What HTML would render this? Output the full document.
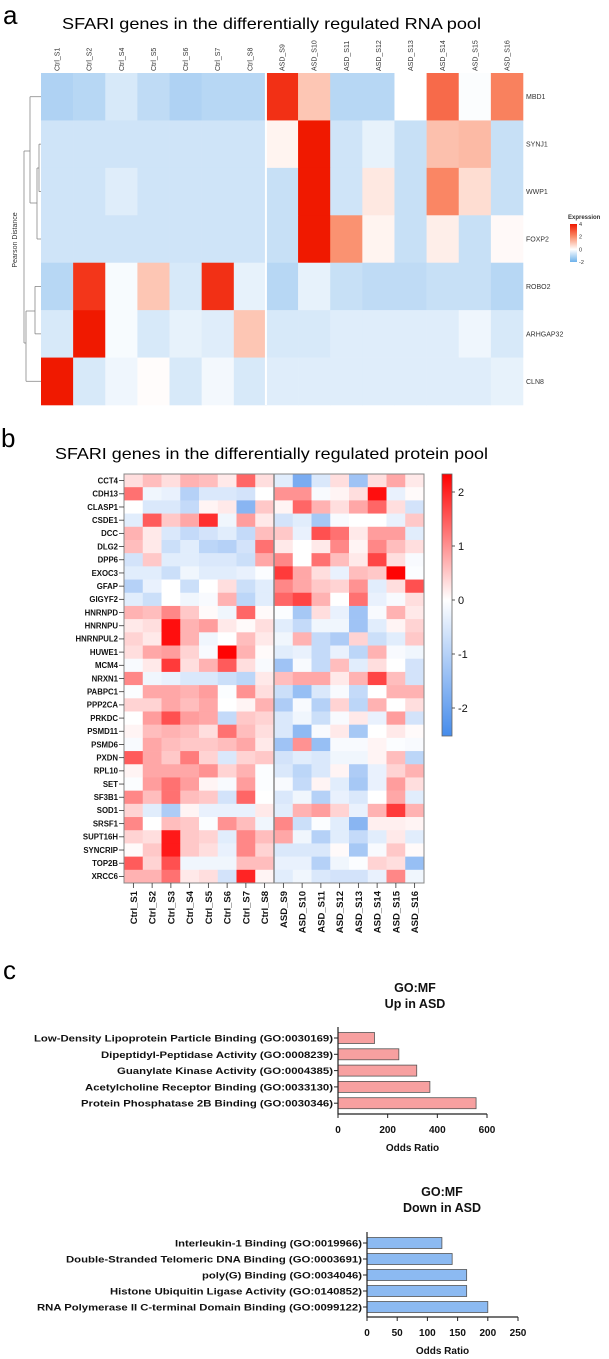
<!DOCTYPE html>
<html><head><meta charset="utf-8">
<style>
html,body{margin:0;padding:0;background:#fff;}
svg{display:block;font-family:"Liberation Sans",Arial,sans-serif;}
</style></head>
<body>
<svg id="fig" width="609" height="1359" viewBox="0 0 609 1359" xmlns="http://www.w3.org/2000/svg">
<defs>
<linearGradient id="gA" x1="0" y1="0" x2="0" y2="1">
<stop offset="0" stop-color="#f01800"/><stop offset="0.33" stop-color="#fa8c69"/><stop offset="0.67" stop-color="#ffffff"/><stop offset="1" stop-color="#6eb2eb"/>
</linearGradient>
<linearGradient id="gB" x1="0" y1="0" x2="0" y2="1">
<stop offset="0" stop-color="#ff0000"/><stop offset="0.481" stop-color="#ffffff"/><stop offset="1" stop-color="#468ceb"/>
</linearGradient>
</defs>
<text x="3" y="24" font-size="26">a</text>
<text x="62" y="29" font-size="16" textLength="419" lengthAdjust="spacingAndGlyphs">SFARI genes in the differentially regulated RNA pool</text>
<text x="1" y="447" font-size="26">b</text>
<text x="55" y="459" font-size="16" textLength="433" lengthAdjust="spacingAndGlyphs">SFARI genes in the differentially regulated protein pool</text>
<text x="3" y="979" font-size="26">c</text>
<g id="pa"></g><g id="pb"></g><g id="pc"></g>
</svg>
<script>
// ---------- Panel a data ----------
const aCols = ["Ctrl_S1","Ctrl_S2","Ctrl_S4","Ctrl_S5","Ctrl_S6","Ctrl_S7","Ctrl_S8","ASD_S9","ASD_S10","ASD_S11","ASD_S12","ASD_S13","ASD_S14","ASD_S15","ASD_S16"];
const aRows = ["MBD1","SYNJ1","WWP1","FOXP2","ROBO2","ARHGAP32","CLN8"];
const aMBD1 = [-1.0,-0.9,-0.5,-0.8,-1.0,-0.9,-0.9,3.6,1.0,-0.9,-0.9,0,2.6,-0.05,2.2];
const aSYNJ1 = [-0.6,-0.6,-0.6,-0.6,-0.6,-0.6,-0.6,0.2,4,-0.6,-0.3,-0.7,1.1,1.2,-0.7];
const aWWP1 = [-0.6,-0.6,-0.4,-0.6,-0.6,-0.6,-0.6,-0.7,4,-0.6,0.4,-0.7,2.1,0.6,-0.7];
const aFOXP2 = [-0.6,-0.6,-0.6,-0.6,-0.6,-0.6,-0.6,-0.7,4,1.9,0.2,-0.7,0.3,-0.7,0.1];
const aROBO2 = [-0.9,3.5,-0.1,1.0,-0.5,3.6,-0.3,-0.9,-0.3,-0.7,-0.8,-0.8,-0.7,-0.7,-0.9];
const aARHGAP32 = [-0.5,4,-0.1,-0.5,-0.3,-0.4,1.0,-0.5,-0.5,-0.4,-0.4,-0.4,-0.4,-0.2,-0.5];
const aCLN8 = [4,-0.5,-0.2,0.05,-0.5,-0.15,-0.5,-0.4,-0.4,-0.4,-0.4,-0.4,-0.4,-0.4,-0.3];
const aValues = [aMBD1,aSYNJ1,aWWP1,aFOXP2,aROBO2,aARHGAP32,aCLN8];
const aLegendTicks = [4,2,0,-2];

// ---------- Panel b data ----------
const bCols = ["Ctrl_S1","Ctrl_S2","Ctrl_S3","Ctrl_S4","Ctrl_S5","Ctrl_S6","Ctrl_S7","Ctrl_S8","ASD_S9","ASD_S10","ASD_S11","ASD_S12","ASD_S13","ASD_S14","ASD_S15","ASD_S16"];
const bRows = ["CCT4","CDH13","CLASP1","CSDE1","DCC","DLG2","DPP6","EXOC3","GFAP","GIGYF2","HNRNPD","HNRNPU","HNRNPUL2","HUWE1","MCM4","NRXN1","PABPC1","PPP2CA","PRKDC","PSMD11","PSMD6","PXDN","RPL10","SET","SF3B1","SOD1","SRSF1","SUPT16H","SYNCRIP","TOP2B","XRCC6"];
const bValues = [
[0.3,0.6,0.3,0.7,0.6,0.2,1.4,0.3,-0.4,-1.8,-0.5,0.3,-1.3,0.3,0.8,0.2],
[1.3,-0.2,-0.3,-1.0,-0.5,-0.5,-0.6,0,1.0,1.0,-0.1,0.1,0.3,2.2,-0.3,0.05],
[0,-0.5,-0.5,-0.8,0.1,0.2,-1.6,0.5,0.1,1.4,0.7,0.3,0.8,1.4,0.3,-0.6],
[-0.4,1.5,0.5,0.8,1.9,-0.2,0.9,0.2,-0.6,-0.4,-1.2,-0.1,0,0,-0.3,0.5],
[0.7,0.2,-0.5,-0.8,-0.6,-0.4,-0.8,0.6,0.5,-0.3,1.6,1.3,0.2,0.9,0.9,-0.4],
[0.6,0.2,-0.7,-0.4,-0.9,-1.0,-0.6,1.3,0.2,0,0.2,1.1,0.1,1.1,0.6,0.3],
[-0.6,0.5,-0.4,-0.4,-0.5,-0.5,-0.7,0.8,1.1,0,1.3,0.6,0.2,1.7,0.3,-0.1],
[-0.4,-0.4,-0.7,-0.2,-0.4,-0.4,-0.3,-0.05,1.8,0.8,0.3,-0.3,0.6,0.5,2.3,-0.05],
[-1.0,-0.3,0,-0.7,0,0.3,-0.7,-0.4,1.1,0.8,0.5,0.4,1.0,-0.4,0.3,1.6],
[-0.4,-0.7,0,-0.2,-0.1,0.7,-0.9,-0.4,1.4,1.7,0.7,0,1.3,-0.3,-0.1,0.3],
[0.7,0.6,1.1,0.5,0.05,-0.2,1.4,0.05,-0.05,-1.2,0.3,-0.3,-1.3,-0.1,0.7,0.2],
[0.2,0.3,2.2,0.7,0.9,0.2,0.05,0.3,-0.4,-0.8,-0.2,-0.2,-1.3,-0.4,0.1,0.4],
[0.4,0.2,2.2,0.7,-0.2,0,0.6,0.2,-0.2,0.7,-0.8,-1.1,0.4,-0.7,-0.4,0.5],
[0.3,0.8,0.9,0.4,-0.1,2.3,0.7,0.05,-0.4,-0.3,-0.8,-0.3,-0.9,0.7,-0.1,-0.2],
[-0.1,0.2,1.8,0.3,0.7,1.5,0.3,-0.1,-1.3,-0.1,-0.8,0.6,-0.4,0.3,0,-0.6],
[1.1,-0.2,-0.3,-0.5,-0.5,-0.7,-0.9,0.2,0.6,0.8,0.8,0.2,0.7,1.7,0.6,-0.6],
[-0.05,0.8,0.8,0.7,0.9,-0.05,1.0,0.3,-0.7,-1.4,-0.5,-0.1,-0.8,0,0.7,0.7],
[0.4,0.4,0.8,0.6,0.8,0,0.1,0.7,-1.1,-0.1,-1.0,0.4,-0.9,0.7,0,0.3],
[0,0.9,1.6,0.9,0.8,-0.8,0.5,0.4,-0.5,-0.2,-0.7,-0.1,0.2,-0.3,0.9,-0.6],
[0.1,0.6,0.7,0.6,0.3,1.3,0.6,0.3,-0.5,-1.5,-0.1,0.2,-1.2,0,0.2,0.05],
[-0.1,0.8,0.6,0.5,0.5,0.6,0.8,0.2,-1.3,1.0,-1.4,-0.1,-0.1,0.1,-0.05,-0.1],
[1.5,0.8,0.5,1.2,0.4,-0.5,0.4,0.5,-0.6,-0.4,-0.5,-0.2,-0.2,0.1,0.6,-0.9],
[0.1,0.8,0.8,0.8,1.0,0.4,0.7,-0.05,-0.5,-0.9,-0.5,0.1,-1.1,-0.3,0.4,0.7],
[-0.05,0.9,1.3,0.9,0.1,-0.1,0.9,-0.05,-0.1,-0.8,0.1,-0.4,-1.2,-0.3,0.9,0.3],
[1.1,0.6,1.3,0.6,0.5,-0.6,1.4,0,-0.5,-0.2,-1.0,-0.3,-0.5,0,0.8,-0.4],
[0.4,-0.4,-1.1,0.1,-0.3,-0.3,-0.3,0.2,-0.4,0.7,0.9,0.4,-0.3,0.7,1.8,0.7],
[1.1,0,0.6,0.5,-0.05,1.0,0.6,-0.2,1.1,-0.7,-0.05,-0.4,-1.6,0.15,0.15,0.1],
[0.4,0.3,2.1,0.5,0.4,-0.4,1.1,0.6,0.8,-0.2,-1.0,-0.4,-0.8,-0.4,0.2,-0.4],
[0.05,0.5,2.1,0.5,0.3,-0.3,1.1,0.4,-0.5,-0.5,-0.5,0.05,-1.2,-0.1,0.5,0.05],
[1.5,0.4,1.6,-0.2,-0.2,-0.2,0.6,0.6,-0.3,-0.3,-1.0,-0.2,-0.05,0.4,0.3,-1.4],
[0.7,0.7,1.3,0.2,0.3,-0.6,2.0,0.1,-0.4,-0.2,-0.5,-0.6,-0.6,-0.3,1.1,-0.2]
];
const bLegendTicks = [2,1,0,-1,-2];

// ---------- Panel c data ----------
const upTerms = ["Low-Density Lipoprotein Particle Binding (GO:0030169)","Dipeptidyl-Peptidase Activity (GO:0008239)","Guanylate Kinase Activity (GO:0004385)","Acetylcholine Receptor Binding (GO:0033130)","Protein Phosphatase 2B Binding (GO:0030346)"];
const upOdds = [147,245,317,370,556];
const upTicks = [0,200,400,600];
const downTerms = ["Interleukin-1 Binding (GO:0019966)","Double-Stranded Telomeric DNA Binding (GO:0003691)","poly(G) Binding (GO:0034046)","Histone Ubiquitin Ligase Activity (GO:0140852)","RNA Polymerase II C-terminal Domain Binding (GO:0099122)"];
const downOdds = [124,141,165,165,200];
const downTicks = [0,50,100,150,200,250];

const NS = "http://www.w3.org/2000/svg";
function mk(tag, attrs, parent){const e=document.createElementNS(NS,tag);for(const k in attrs)e.setAttribute(k,attrs[k]);parent.appendChild(e);return e;}
function mix(a,b,t){return "rgb("+a.map((v,i)=>Math.round(v+(b[i]-v)*t)).join(",")+")";}
function colA(v){
  if(v<0){return mix([255,255,255],[95,165,230],Math.min(-v/2,1));}
  const t=Math.min(v/4,1);
  if(t<0.5) return mix([255,255,255],[250,140,105],t/0.5);
  return mix([250,140,105],[240,25,0],(t-0.5)/0.5);
}
function colB(v){
  if(v<0) return mix([255,255,255],[70,140,235],Math.min(-v/2.5,1));
  return mix([255,255,255],[255,0,0],Math.min(v/2.33,1));
}

// ---------- Panel a ----------
(function(){
  const g=document.getElementById("pa");
  const x0=41,y0=73,cw=(523-41)/aCols.length,rh=(405-73)/aRows.length;
  const xA=i=>x0+i*cw, yA=j=>y0+j*rh;
  aValues.forEach((row,j)=>row.forEach((v,i)=>{
    const r=mk("rect",{x:xA(i),y:yA(j),width:cw+0.3,height:rh+0.3,fill:colA(v)},g);
    
    
  }));
  const div=mk("line",{x1:xA(7),x2:xA(7),y1:y0,y2:405,stroke:"#fff","stroke-width":2},g);
  
  
  aCols.forEach((c,i)=>{
    const cx=xA(i)+cw/2+2.5;
    const t=mk("text",{x:cx,y:71,"font-size":7,fill:"#333","text-anchor":"start",transform:"rotate(-90 "+cx+" 71)"},g);
    t.textContent=c;
    
    
  });
  aRows.forEach((r,j)=>{
    const t=mk("text",{x:526,y:yA(j)+rh/2+2.5,"font-size":7,fill:"#333"},g);
    t.textContent=r;
    
    
  });
  const cy=j=>yA(j)+rh/2;
  const segs=[
    [39,cy(1),39,cy(2)],[39,cy(1),41,cy(1)],[39,cy(2),41,cy(2)],
    [37,168,37,cy(3)],[37,168,39,168],[37,cy(3),41,cy(3)],
    [30,cy(0),30,203],[30,cy(0),41,cy(0)],[30,203,37,203],
    [24,151,24,343],[24,151,30,151],
    [35,cy(4),35,cy(5)],[35,cy(4),41,cy(4)],[35,cy(5),41,cy(5)],
    [26,311,26,cy(6)],[26,311,35,311],[26,cy(6),41,cy(6)],[24,343,26,343]
  ];
  const dg=mk("g",{stroke:"#888","stroke-width":0.8,fill:"none"},g);
  
  
  segs.forEach(s=>mk("line",{x1:s[0],y1:s[1],x2:s[2],y2:s[3]},dg));
  const pd=mk("text",{x:17,y:240,"font-size":7,fill:"#333","text-anchor":"middle",transform:"rotate(-90 17 240)"},g);
  pd.textContent="Pearson Distance";
  
  
  const lt=mk("text",{x:568,y:219,"font-size":6,"font-weight":"bold",fill:"#333"},g);
  lt.textContent="Expression";
  
  
  const lb=mk("rect",{x:570,y:224,width:7,height:38,fill:"url(#gA)"},g);
  
  
  const lyA=v=>262-(v+2)/6*38;
  aLegendTicks.forEach(v=>{
    const t=mk("text",{x:579,y:lyA(v)+2,"font-size":5.5,fill:"#333"},g);
    t.textContent=v;
    
    
  });
})();

// ---------- Panel b ----------
(function(){
  const g=document.getElementById("pb");
  const x0=124,y0=474,x1=424,y1=883;
  const cw=(x1-x0)/bCols.length,rh=(y1-y0)/bRows.length;
  const xB=i=>x0+i*cw, yB=j=>y0+j*rh;
  bValues.forEach((row,j)=>row.forEach((v,i)=>{
    const r=mk("rect",{x:xB(i),y:yB(j),width:cw+0.3,height:rh+0.3,fill:colB(v)},g);
    
    
  }));
  const fr=mk("rect",{x:x0,y:y0,width:x1-x0,height:y1-y0,fill:"none",stroke:"#888","stroke-width":1},g);
  
  
  const dv=mk("line",{x1:xB(8),x2:xB(8),y1:y0,y2:y1,stroke:"#888","stroke-width":1.5},g);
  
  
  bRows.forEach((r,j)=>{
    const y=yB(j)+rh/2;
    mk("line",{x1:119,x2:124,y1:y,y2:y,stroke:"#333","stroke-width":0.8},g);
    const t=mk("text",{x:118,y:y+2.8,"font-size":7.8,"font-weight":"bold",fill:"#111","text-anchor":"end"},g);
    t.textContent=r;
    
    
  });
  bCols.forEach((c,i)=>{
    const x=xB(i)+cw/2;
    mk("line",{x1:x,x2:x,y1:y1,y2:y1+5,stroke:"#333","stroke-width":0.8},g);
    const tx=x+3.5;
    const t=mk("text",{x:tx,y:891,"font-size":9.5,"font-weight":"bold",fill:"#111","text-anchor":"end",transform:"rotate(-90 "+tx+" 891)"},g);
    t.textContent=c;
    
    
  });
  const cb=mk("rect",{x:442,y:474,width:10,height:262,fill:"url(#gB)",stroke:"#666","stroke-width":0.8},g);
  
  
  const lyB=v=>600-54*v;
  bLegendTicks.forEach(v=>{
    mk("line",{x1:452,x2:455,y1:lyB(v),y2:lyB(v),stroke:"#333","stroke-width":0.8},g);
    const t=mk("text",{x:458,y:lyB(v)+4,"font-size":11,fill:"#111"},g);
    t.textContent=v;
    
    
  });
})();

// ---------- Panel c ----------
function barChart(g,terms,odds,ticks,opt){
  const xS=v=>opt.x0+(v-ticks[0])/(ticks[ticks.length-1]-ticks[0])*(opt.x1-opt.x0);
  const yS=i=>opt.y0+i*opt.step;
  const t1=mk("text",{x:opt.cx,y:opt.ty,"font-size":12.5,"font-weight":"bold","text-anchor":"middle",fill:"#111"},g);
  t1.textContent="GO:MF";
  
  
  const t2=mk("text",{x:opt.cx,y:opt.ty+16,"font-size":12.5,"font-weight":"bold","text-anchor":"middle",fill:"#111"},g);
  t2.textContent=opt.sub;
  
  
  terms.forEach((term,i)=>{
    const y=yS(i);
    const b=mk("rect",{x:xS(0),y:y-5.5,width:xS(odds[i])-xS(0),height:11,fill:opt.fill,stroke:"#555","stroke-width":0.8},g);
    
    
    mk("line",{x1:xS(0)-4,x2:xS(0),y1:y,y2:y,stroke:"#222","stroke-width":1},g);
    const t=mk("text",{x:xS(0)-5,y:y+3.5,"font-size":9.6,"font-weight":"bold","text-anchor":"end",fill:"#111",textLength:opt.lens[i],lengthAdjust:"spacingAndGlyphs"},g);
    t.textContent=term;
    
    
  });
  const ax=mk("path",{d:"M"+xS(0)+" "+opt.axTop+"V"+opt.axY+"H"+xS(ticks[ticks.length-1]),stroke:"#222","stroke-width":1.2,fill:"none"},g);
  
  
  ticks.forEach(v=>{
    mk("line",{x1:xS(v),x2:xS(v),y1:opt.axY,y2:opt.axY+4,stroke:"#222","stroke-width":1},g);
    const t=mk("text",{x:xS(v),y:opt.axY+19,"font-size":10,"font-weight":"bold","text-anchor":"middle",fill:"#111"},g);
    t.textContent=v;
    
    
  });
  const xt=mk("text",{x:(xS(ticks[0])+xS(ticks[ticks.length-1]))/2,y:opt.axY+37,"font-size":10,"font-weight":"bold","text-anchor":"middle",fill:"#111"},g);
  xt.textContent="Odds Ratio";
  
  
}
(function(){
  const g=document.getElementById("pc");
  const gu=mk("g",{},g);
  
  
  barChart(gu,upTerms,upOdds,upTicks,{key:"up",x0:338,x1:487,y0:1038,step:16.3,axY:1114,axTop:1027,cx:415,ty:992,sub:"Up in  ASD",fill:"#f7a0a0",lens:[299,232,216,248,252]});
  const gd=mk("g",{},g);
  
  
  barChart(gd,downTerms,downOdds,downTicks,{key:"down",x0:367,x1:518,y0:1243,step:16,axY:1317,axTop:1232,cx:442,ty:1196,sub:"Down in  ASD",fill:"#8cbaf2",lens:[187,296,160,252,325]});
})();
</script>
</body></html>
